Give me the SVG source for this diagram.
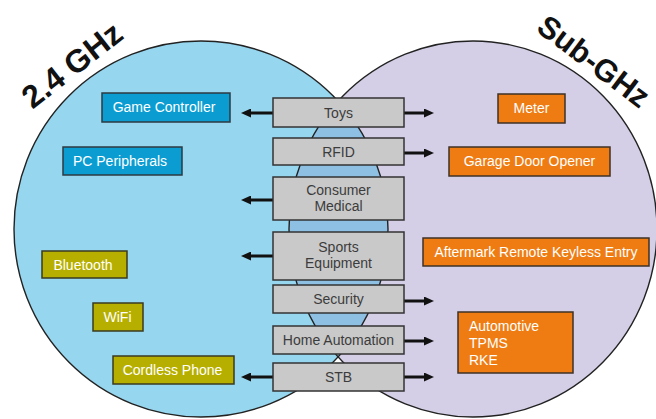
<svg xmlns="http://www.w3.org/2000/svg" width="656" height="419" viewBox="0 0 656 419">
<style>
text{font-family:"Liberation Sans",Arial,sans-serif;font-size:14px}
.title{font-weight:bold;font-size:32px;fill:#111}
.mid rect{fill:#c9c9c9;stroke:#333;stroke-width:1.5}
.mid text{fill:#3c3c3c;text-anchor:middle}
.blue rect{fill:#0b9dd2;stroke:#2e3a40;stroke-width:1.5}
.olive rect{fill:#b7af00;stroke:#3a3a20;stroke-width:1.5}
.orange rect{fill:#ef7c12;stroke:#3e3226;stroke-width:1.5}
.blue text,.olive text,.orange text{fill:#fff;text-anchor:middle}
.orange text.left{text-anchor:start}
.conn line{stroke:#111;stroke-width:3}
</style>
<defs>
<marker id="ah" markerUnits="userSpaceOnUse" markerWidth="10" markerHeight="9" refX="4" refY="4.5" orient="auto">
<path d="M0,0 L10,4.5 L0,9 z" fill="#111"/>
</marker>
<clipPath id="clipR"><ellipse cx="473" cy="229" rx="184" ry="188"/></clipPath>
</defs>
<rect width="656" height="419" fill="#fff"/>
<g id="circles">
<ellipse cx="201" cy="229" rx="187" ry="188" fill="#96d6ee"/>
<ellipse cx="473" cy="229" rx="184" ry="188" fill="#d4cfe6"/>
<ellipse cx="201" cy="229" rx="187" ry="188" fill="#8ec0e4" clip-path="url(#clipR)"/>
<ellipse cx="201" cy="229" rx="187" ry="188" fill="none" stroke="#222" stroke-width="1.4"/>
<ellipse cx="473" cy="229" rx="184" ry="188" fill="none" stroke="#222" stroke-width="1.4"/>
</g>
<g id="titles">
<text class="title" transform="translate(72,65) rotate(-38)" x="0" y="11" text-anchor="middle">2.4 GHz</text>
<text class="title" transform="translate(594,61) rotate(37)" x="0" y="11" text-anchor="middle" style="font-size:31px">Sub-GHz</text>
</g>
<g class="conn" id="connectors">
<line x1="273" y1="113" x2="247" y2="113" marker-end="url(#ah)"/>
<line x1="273" y1="200" x2="247" y2="200" marker-end="url(#ah)"/>
<line x1="273" y1="256" x2="247" y2="256" marker-end="url(#ah)"/>
<line x1="273" y1="377" x2="247" y2="377" marker-end="url(#ah)"/>
<line x1="404" y1="113" x2="428" y2="113" marker-end="url(#ah)"/>
<line x1="404" y1="153" x2="428" y2="153" marker-end="url(#ah)"/>
<line x1="404" y1="301" x2="428" y2="301" marker-end="url(#ah)"/>
<line x1="404" y1="341" x2="428" y2="341" marker-end="url(#ah)"/>
<line x1="404" y1="377" x2="428" y2="377" marker-end="url(#ah)"/>
</g>
<g id="toys" class="mid"><rect x="273" y="98" width="131" height="29"/><text x="338.5" y="117.5">Toys</text></g>
<g id="rfid" class="mid"><rect x="273" y="138" width="131" height="27"/><text x="338.5" y="156.5">RFID</text></g>
<g id="consumer-medical" class="mid"><rect x="273" y="177" width="131" height="43"/><text x="338.5" y="195">Consumer</text><text x="338.5" y="211">Medical</text></g>
<g id="sports-equipment" class="mid"><rect x="273" y="232" width="131" height="48"/><text x="338.5" y="252">Sports</text><text x="338.5" y="268">Equipment</text></g>
<g id="security" class="mid"><rect x="273" y="285" width="131" height="28"/><text x="338.5" y="304">Security</text></g>
<g id="home-automation" class="mid"><rect x="273" y="326" width="131" height="28"/><text x="338.5" y="345">Home Automation</text></g>
<g id="stb" class="mid"><rect x="273" y="363" width="131" height="28"/><text x="338.5" y="382">STB</text></g>
<g id="game-controller" class="blue"><rect x="102" y="93" width="128" height="29"/><text x="164" y="112">Game Controller</text></g>
<g id="pc-peripherals" class="blue"><rect x="63" y="147" width="119" height="28"/><text x="120" y="166">PC Peripherals</text></g>
<g id="bluetooth" class="olive"><rect x="42" y="251" width="85" height="27"/><text x="83" y="269.5">Bluetooth</text></g>
<g id="wifi" class="olive"><rect x="93" y="303" width="50" height="28"/><text x="117.5" y="322">WiFi</text></g>
<g id="cordless-phone" class="olive"><rect x="113" y="356" width="121" height="28"/><text x="172.5" y="375">Cordless Phone</text></g>
<g id="meter" class="orange"><rect x="498" y="94" width="67" height="29"/><text x="531.5" y="113">Meter</text></g>
<g id="garage-door-opener" class="orange"><rect x="449" y="147" width="161" height="29"/><text x="529.5" y="166">Garage Door Opener</text></g>
<g id="aftermark-rke" class="orange"><rect x="423" y="238" width="226" height="28"/><text x="536" y="257">Aftermark Remote Keyless Entry</text></g>
<g id="automotive" class="orange"><rect x="458" y="312" width="115" height="61"/><text class="left" x="469" y="331">Automotive</text><text class="left" x="469" y="348">TPMS</text><text class="left" x="469" y="365">RKE</text></g>
</svg>
